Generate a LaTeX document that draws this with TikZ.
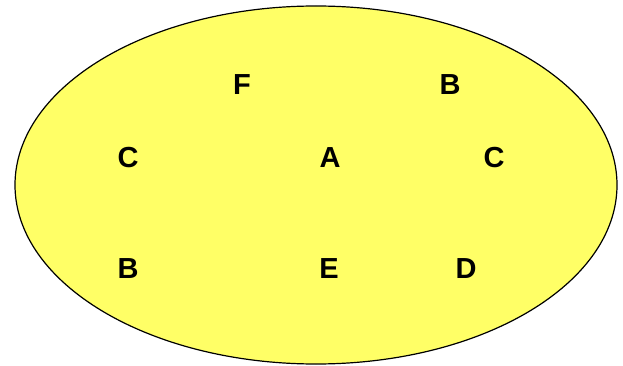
\documentclass[tikz,border=0pt]{standalone}
\usepackage{fontspec}
\setmainfont{Liberation Sans}
\usepackage{tikz}
\usetikzlibrary{positioning}
\tikzstyle{plane} = [x = 1pt, y = -1pt]
\definecolor{setColor}{RGB}{255,255,102}
\tikzstyle{setStyle} = [draw=black, fill=setColor, line width=1.2pt]
\tikzstyle{elementText} = [font=\fontsize{29}{30}\selectfont\bfseries, inner sep=0pt]
\begin{document}
\begin{tikzpicture}[plane]
  \useasboundingbox (0,0) rectangle (623,366);
  \filldraw [setStyle] (316,185) ellipse [x radius=301, y radius=179];
  \node [elementText] (f) at (242,85) {F};
  \node [elementText] (b1) at (450,85) {B};
  \node [elementText] (c1) at (128,158) {C};
  \node [elementText] (a) at (330,158) {A};
  \node [elementText] (c2) at (494,158) {C};
  \node [elementText] (b2) at (128,269) {B};
  \node [elementText] (e) at (329,269) {E};
  \node [elementText] (d) at (466,269) {D};
\end{tikzpicture}
\end{document}
